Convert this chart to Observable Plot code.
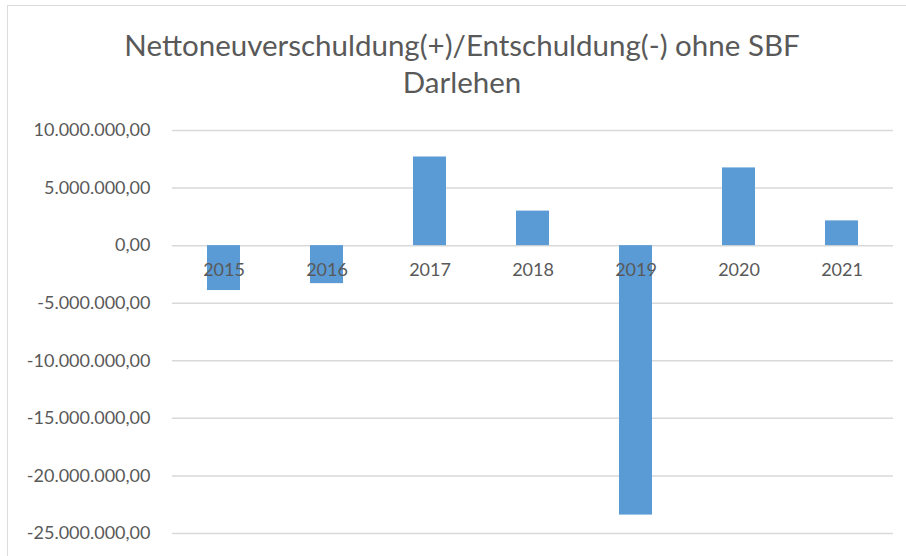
<!DOCTYPE html>
<html>
<head>
<meta charset="utf-8">
<script src="https://cdn.jsdelivr.net/npm/d3@7"></script>
<script src="https://cdn.jsdelivr.net/npm/@observablehq/plot@0.6"></script>
<style>
  html, body { margin: 0; padding: 0; background: #fff; }
  #wrap { position: relative; width: 906px; height: 556px; overflow: hidden; font-family: Lato, sans-serif; }
  #frame { position: absolute; left: 7px; top: 5px; width: 920px; height: 570px; border: 1.5px solid #dcdcdc; box-sizing: border-box; }
  #title { position: absolute; left: 0; top: 26px; width: 924px; text-align: center; font-size: 29.5px; line-height: 37px; color: #595959; }
  #chart { position: absolute; left: 0; top: 0; }
</style>
</head>
<body>
<div id="wrap">
  <div id="frame"></div>
  <div id="chart"></div>
  <div id="title">Nettoneuverschuldung(+)/Entschuldung(-) ohne SBF<br>Darlehen</div>
</div>
<script>
const years = ["2015", "2016", "2017", "2018", "2019", "2020", "2021"];
const values = [-3900000, -3300000, 7700000, 3000000, -23400000, 6750000, 2150000];
const yTicks = [10000000, 5000000, 0, -5000000, -10000000, -15000000, -20000000, -25000000];

const data = years.map((y, i) => ({year: y, value: values[i]}));
const de = d3.formatLocale({decimal: ",", thousands: ".", grouping: [3], currency: ["", " €"], minus: "-"});
const fmt = de.format(",.2f");

const chart = Plot.plot({
  width: 906,
  height: 556,
  marginLeft: 172,
  marginRight: 13,
  marginTop: 130,
  marginBottom: 23,
  style: {fontFamily: "Lato, sans-serif", background: "transparent"},
  x: {domain: years, paddingInner: 0.68, paddingOuter: 0.34, axis: null},
  y: {domain: [-25000000, 10000000], axis: null},
  marks: [
    Plot.ruleY(yTicks, {stroke: "#d9d9d9", strokeWidth: 1.5}),
    Plot.barY(data, {x: "year", y: "value", fill: "#5b9bd5"}),
    Plot.axisY(yTicks, {tickSize: 0, tickPadding: 22, tickFormat: fmt, fontSize: 18, fill: "#595959", label: null}),
    Plot.text(data, {x: "year", y: () => 0, text: "year", dy: 25, fontSize: 18, fill: "#595959"})
  ]
});
document.getElementById("chart").appendChild(chart);
</script>
</body>
</html>
